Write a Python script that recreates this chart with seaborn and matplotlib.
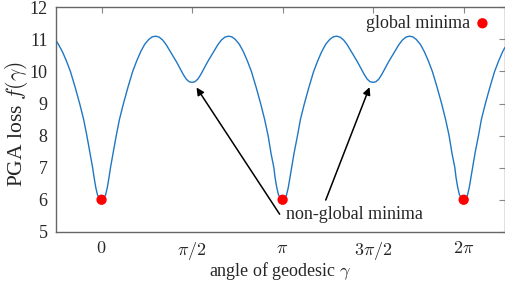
import numpy as np
import pandas as pd
import matplotlib
matplotlib.use("Agg")
import matplotlib.pyplot as plt
import seaborn as sns

# curve: angle (rad) -> PGA loss
angle = [
    -0.79, -0.75, -0.68, -0.61, -0.54, -0.46, -0.38, -0.31, -0.255, -0.20, -0.155, -0.13,
    -0.10, -0.07, -0.035,
    0.00, 0.035, 0.07, 0.10, 0.13, 0.155, 0.20, 0.255, 0.31, 0.38, 0.46, 0.54, 0.61, 0.68,
    0.75, 0.82, 0.88, 0.94, 1.00, 1.06, 1.12, 1.18, 1.24, 1.30, 1.36, 1.42, 1.47, 1.52,
    1.571, 1.62, 1.67, 1.72, 1.78, 1.84, 1.90, 1.96, 2.02, 2.08, 2.14, 2.20, 2.26, 2.32,
    2.39, 2.46, 2.53, 2.60, 2.68, 2.76, 2.83, 2.89, 2.94, 2.99, 3.01, 3.04, 3.07, 3.11,
    3.14, 3.18, 3.21, 3.24, 3.27, 3.30, 3.34, 3.40, 3.45, 3.52, 3.60, 3.68, 3.75, 3.82,
    3.89, 3.96, 4.02, 4.08, 4.14, 4.20, 4.26, 4.32, 4.38, 4.44, 4.50, 4.56, 4.61, 4.66,
    4.71, 4.76, 4.81, 4.86, 4.92, 4.98, 5.04, 5.10, 5.16, 5.22, 5.28, 5.34, 5.40, 5.46,
    5.53, 5.60, 5.67, 5.74, 5.82, 5.90, 5.97, 6.03, 6.08, 6.13, 6.15, 6.18, 6.21, 6.25,
    6.28, 6.32, 6.35, 6.38, 6.41, 6.44, 6.48, 6.54, 6.59, 6.66, 6.74, 6.82, 6.89, 6.96,
    7.00,
]
loss = [
    10.97, 10.85, 10.62, 10.33, 10.00, 9.52, 9.00, 8.50, 8.00, 7.45, 7.00, 6.70,
    6.38, 6.15, 6.04,
    6.00, 6.04, 6.15, 6.38, 6.70, 7.00, 7.45, 8.00, 8.50, 9.00, 9.52, 10.00, 10.33, 10.62,
    10.85, 11.00, 11.08, 11.10, 11.07, 10.98, 10.84, 10.66, 10.48, 10.30, 10.10, 9.90, 9.76, 9.68,
    9.66, 9.68, 9.76, 9.90, 10.10, 10.30, 10.48, 10.66, 10.84, 10.98, 11.07, 11.10, 11.08, 11.00,
    10.85, 10.62, 10.33, 10.00, 9.52, 9.00, 8.50, 8.00, 7.45, 7.00, 6.70, 6.38, 6.15, 6.04,
    6.00, 6.04, 6.15, 6.38, 6.70, 7.00, 7.45, 8.00, 8.50, 9.00, 9.52, 10.00, 10.33, 10.62,
    10.85, 11.00, 11.08, 11.10, 11.07, 10.98, 10.84, 10.66, 10.48, 10.30, 10.10, 9.90, 9.76, 9.68,
    9.66, 9.68, 9.76, 9.90, 10.10, 10.30, 10.48, 10.66, 10.84, 10.98, 11.07, 11.10, 11.08, 11.00,
    10.85, 10.62, 10.33, 10.00, 9.52, 9.00, 8.50, 8.00, 7.45, 7.00, 6.70, 6.38, 6.15, 6.04,
    6.00, 6.04, 6.15, 6.38, 6.70, 7.00, 7.45, 8.00, 8.50, 9.00, 9.52, 10.00, 10.33, 10.62,
    10.75,
]

# global minima
min_angle = [0.0, np.pi, 2 * np.pi]
min_loss = [6.0, 6.0, 6.0]

xtick_vals = [0, np.pi / 2, np.pi, 3 * np.pi / 2, 2 * np.pi]
xtick_labels = ["$0$", r"$\pi/2$", r"$\pi$", r"$3\pi/2$", r"$2\pi$"]
ytick_vals = [5, 6, 7, 8, 9, 10, 11, 12]

sns.set_style("white")
plt.rcParams["font.family"] = ["Liberation Serif", "DejaVu Serif"]
plt.rcParams["mathtext.fontset"] = "cm"
fs = 13

curve = pd.DataFrame({"angle": angle, "loss": loss})
minima = pd.DataFrame({"angle": min_angle, "loss": min_loss})

fig = plt.figure(figsize=(5.06, 2.82), dpi=100)
ax = fig.add_axes([0.1107, 0.178, 0.8873, 0.796])

sns.lineplot(data=curve, x="angle", y="loss", color="#1f77c4", lw=1.0, ax=ax, sort=False)
sns.scatterplot(data=minima, x="angle", y="loss", color="#ff0000", s=55, edgecolor="none",
                zorder=5, ax=ax, label="global minima")

ax.set_xlim(-0.79, 7.0)
ax.set_ylim(5, 12)
ax.set_xticks(xtick_vals)
ax.set_xticklabels(xtick_labels)
ax.set_yticks(ytick_vals)
ax.tick_params(direction="in", length=4, width=0.8, color="#888888", top=True, right=True,
               labelsize=fs, pad=6)
for sp in ax.spines.values():
    sp.set_color("#666666")
    sp.set_linewidth(1.0)

ax.set_xlabel(r"angle of geodesic $\gamma$", fontsize=fs, va="center")
ax.xaxis.set_label_coords(0.5, -0.176)
ax.set_ylabel(r"PGA loss $f(\gamma)$", fontsize=15.5, va="center")
ax.yaxis.set_label_coords(-0.089, 0.478)

leg = ax.legend(loc="upper right", frameon=False, markerfirst=False, fontsize=fs,
                handletextpad=0.1, borderaxespad=0.1, handlelength=1.2,
                bbox_to_anchor=(0.994, 1.006))

# arrows to the non-global minima
arrow = dict(arrowstyle="-|>", color="black", lw=1.1, mutation_scale=11, shrinkA=0, shrinkB=0)
ax.annotate("", xy=(1.648, 9.50), xytext=(3.09, 5.55), arrowprops=arrow)
ax.annotate("", xy=(4.65, 9.51), xytext=(3.89, 5.99), arrowprops=arrow)
ax.text(4.39, 5.55, "non-global minima", ha="center", va="center", fontsize=fs)

fig.savefig("out.png", dpi=100)
